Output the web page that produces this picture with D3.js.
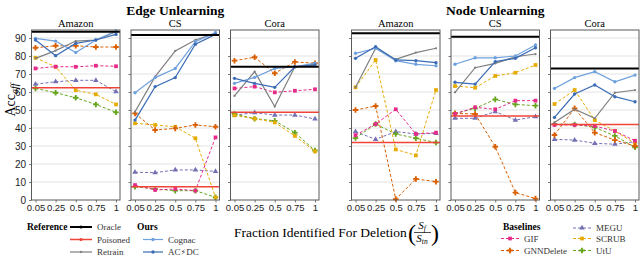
<!DOCTYPE html>
<html>
<head>
<meta charset="utf-8">
<script src="https://cdn.jsdelivr.net/npm/d3@7"></script>
<style>
  body { margin: 0; background: #fff; }
  svg { display: block; font-family: "Liberation Serif", "DejaVu Serif", serif; }
</style>
</head>
<body>
<svg id="chart" width="640" height="256"></svg>
<script>
// ---------- data ----------
const xLabels = ["0.05", "0.25", "0.5", "0.75", "1"];
const datasets = ["Amazon", "CS", "Cora"];
const groups = ["Edge Unlearning", "Node Unlearning"];
const yTicks = [0, 10, 20, 30, 40, 50, 60, 70, 80, 90];

// rows = panels: edge Amazon, edge CS, edge Cora, node Amazon, node CS, node Cora
const oracle = [93.5, 91.7, 74, 92.6, 90.7, 73.1];
const poisoned = [62.4, 7.4, 48.7, 32, 46.7, 42];

const retrain = [
  [78.7, 83, 88.3, 88.9, 93.5],
  [49, 68.5, 82.8, 88.9, 92.6],
  [57.8, 71.3, 51.9, 74, 75.5],
  [62.6, 84.3, 78.1, 81.9, 84.3],
  [59.8, 73.5, 75.9, 79.6, 81.1],
  [43, 50.4, 45.4, 59.6, 61.1]
];
const cognac = [
  [89.8, 88.3, 81.9, 88.9, 93.9],
  [59.6, 68, 73.1, 88, 93.1],
  [64.8, 68.1, 73.1, 74, 76],
  [81.5, 84.3, 77.4, 75.4, 74.6],
  [75.4, 79, 79, 80, 86.1],
  [62, 68, 71.3, 65.7, 69.4]
];
const acdc = [
  [88.9, 80.2, 87, 88.9, 92],
  [44.4, 63, 68, 86.5, 92],
  [67.6, 64.8, 62.6, 74, 75],
  [78.7, 85.2, 77.8, 77.4, 76.3],
  [65.4, 64.4, 76.9, 78.7, 84.6],
  [45.9, 58.9, 63.9, 57.4, 54.6]
];
const gif = [
  [73.1, 74.1, 74, 74.6, 74.3],
  [8.3, 5.6, 6.1, 5.2, 34.8],
  [62, 63, 59.8, 60.7, 61.5],
  [36, 42.2, 50.4, 36.7, 37.4],
  [47.8, 51.5, 50.4, 55.2, 55.2],
  [41.7, 41.7, 41.1, 38.3, 32.9]
];
const gnndelete = [
  [84.6, 85.7, 85.7, 85, 85],
  [48.1, 38.9, 39.8, 41.7, 40.7],
  [77.4, 79.3, 70.4, 76.7, 76],
  [50, 52.2, 0.5, 11.7, 10.2],
  [48.1, 47.8, 29.6, 4.1, 0.8],
  [36.1, 50.9, 37.4, 33.3, 30]
];
const megu = [
  [64.3, 65.7, 66.5, 66.5, 60.2],
  [15.4, 15.2, 16.7, 16.7, 15.9],
  [47.2, 48.5, 47.2, 47.2, 45],
  [38, 33.7, 38, 36.7, 37],
  [45.4, 45.4, 49.1, 44.4, 46.3],
  [33.7, 33.3, 31.5, 31, 32.4]
];
const scrub = [
  [79, 74, 61, 58.7, 53.1],
  [42.6, 41.7, 40.7, 34.3, 1.5],
  [47, 45.2, 43.1, 35.6, 27],
  [62.6, 77.8, 28.1, 24.8, 61.1],
  [63.3, 62.4, 68.9, 70.7, 75],
  [53.3, 61.1, 44.4, 38.3, 31.5]
];
const utu = [
  [62, 59.6, 56.8, 53.1, 48.7],
  [7.4, 6.1, 5.2, 5.2, 1.5],
  [47.8, 45.2, 44, 37.4, 27.5],
  [34.4, 42.2, 36.7, 34.3, 31.9],
  [48.1, 50.9, 55.9, 53.1, 52.4],
  [42.2, 42, 40.4, 35.6, 29.3]
];

// ---------- styles ----------
const style = {
  "Oracle":    { color: "#000000", width: 2,   symbol: d3.symbolCircle, size: 8 },
  "Poisoned":  { color: "#f0443a", width: 1.5, symbol: d3.symbolCircle, size: 8 },
  "Retrain":   { color: "#7f7f7f", width: 1.2, symbol: d3.symbolCircle, size: 4 },
  "Cognac":    { color: "#6fa1dd", width: 1.2, symbol: d3.symbolCircle, size: 9 },
  "AC⚡DC":     { color: "#3b6cb5", width: 1.2, symbol: d3.symbolCircle, size: 9 },
  "GIF":       { color: "#e7298a", width: 1, dash: "3,2", symbol: d3.symbolSquare, size: 14 },
  "GNNDelete": { color: "#d95f02", width: 1, dash: "3,2", symbol: d3.symbolCross, size: 17 },
  "MEGU":      { color: "#7570b3", width: 1, dash: "3,2", symbol: d3.symbolTriangle, size: 13 },
  "SCRUB":     { color: "#e6ab02", width: 1, dash: "3,2", symbol: d3.symbolSquare, size: 14 },
  "UtU":       { color: "#66a61e", width: 1, dash: "3,2", symbol: d3.symbolCross, size: 17 }
};

// drawing order, back to front
const series = [
  ["MEGU", megu], ["UtU", utu], ["SCRUB", scrub], ["GNNDelete", gnndelete], ["GIF", gif],
  ["Retrain", retrain], ["Cognac", cognac], ["AC⚡DC", acdc]
];

// ---------- layout ----------
const svg = d3.select("#chart");
const groupX = [31.5, 351.5];
const panelStep = 99.5;
const panelW = 88.5;
const plotTop = 30, plotBottom = 200;

const y = d3.scaleLinear().domain([0, 94.45]).range([plotBottom, plotTop]);

groups.forEach((gName, gi) => {
  svg.append("text")
    .attr("x", groupX[gi] + panelStep + panelW / 2)
    .attr("y", 15)
    .attr("text-anchor", "middle")
    .attr("font-weight", "bold")
    .attr("font-size", 13.5)
    .text(gName);

  datasets.forEach((ds, di) => {
    const p = gi * 3 + di;
    const x0 = groupX[gi] + di * panelStep;
    const x = d3.scalePoint().domain(xLabels).range([x0 + 4, x0 + panelW - 4]);
    const g = svg.append("g");

    // title
    g.append("text")
      .attr("x", x0 + panelW / 2)
      .attr("y", 26.5)
      .attr("text-anchor", "middle")
      .attr("font-size", 10.5)
      .text(ds);

    // grid
    g.selectAll("line.grid")
      .data(yTicks.filter(t => t > 0))
      .enter().append("line")
      .attr("x1", x0).attr("x2", x0 + panelW)
      .attr("y1", d => y(d)).attr("y2", d => y(d))
      .attr("stroke", "#e3e3e3").attr("stroke-width", 1);

    // axes
    const yAxis = g.append("g")
      .attr("transform", `translate(${x0},0)`)
      .call(d3.axisLeft(y).tickValues(yTicks).tickSize(2.5).tickPadding(3)
        .tickFormat(p === 0 ? d3.format("d") : ""));
    yAxis.select(".domain").remove();
    yAxis.selectAll("line").attr("stroke", "#777");
    yAxis.selectAll("text").attr("font-family", null).attr("font-size", 10).attr("fill", "#222");

    const xAxis = g.append("g")
      .attr("transform", `translate(0,${plotBottom})`)
      .call(d3.axisBottom(x).tickSize(2.5).tickPadding(2));
    xAxis.select(".domain").remove();
    xAxis.selectAll("line").attr("stroke", "#777");
    xAxis.selectAll("text").attr("font-family", null).attr("font-size", 9.5).attr("fill", "#222");

    // baselines + ours
    series.forEach(([name, rows]) => {
      const s = style[name];
      const pts = rows[p].map((v, i) => [xLabels[i], v]);
      g.append("path")
        .datum(pts)
        .attr("fill", "none")
        .attr("stroke", s.color)
        .attr("stroke-width", s.width)
        .attr("stroke-dasharray", s.dash || null)
        .attr("d", d3.line().x(d => x(d[0])).y(d => y(d[1])));
      g.selectAll(null)
        .data(pts)
        .enter().append("path")
        .attr("transform", d => `translate(${x(d[0])},${y(d[1])})`)
        .attr("d", d3.symbol(s.symbol, s.size))
        .attr("fill", s.color);
    });

    // reference horizontal lines
    [["Poisoned", poisoned], ["Oracle", oracle]].forEach(([name, vals]) => {
      g.append("line")
        .attr("x1", x0).attr("x2", x0 + panelW)
        .attr("y1", y(vals[p])).attr("y2", y(vals[p]))
        .attr("stroke", style[name].color)
        .attr("stroke-width", style[name].width);
    });

    // frame
    g.append("rect")
      .attr("x", x0).attr("y", plotTop)
      .attr("width", panelW).attr("height", plotBottom - plotTop)
      .attr("fill", "none").attr("stroke", "#5a5a5a").attr("stroke-width", 1);
  });
});

// y title
const yt = svg.append("text")
  .attr("transform", "translate(15,100) rotate(-90)")
  .attr("text-anchor", "middle")
  .attr("font-size", 14);
yt.append("tspan").text("Acc");
yt.append("tspan").attr("font-size", 10).attr("font-style", "italic").attr("dy", 3).text("aff");

// x title
svg.append("text")
  .attr("x", 234).attr("y", 237)
  .attr("font-size", 13.5)
  .text("Fraction Identified For Deletion");
svg.append("text").attr("x", 408).attr("y", 241).attr("font-size", 24).attr("font-weight", 300).text("(");
svg.append("text").attr("x", 431).attr("y", 241).attr("font-size", 24).attr("font-weight", 300).text(")");
const num = svg.append("text").attr("x", 422).attr("y", 229).attr("text-anchor", "middle")
  .attr("font-size", 11).attr("font-style", "italic");
num.append("tspan").text("S");
num.append("tspan").attr("font-size", 7.5).attr("dy", 2).text("f");
svg.append("line").attr("x1", 414).attr("x2", 431).attr("y1", 232.5).attr("y2", 232.5)
  .attr("stroke", "#000").attr("stroke-width", 0.7);
const den = svg.append("text").attr("x", 422).attr("y", 242).attr("text-anchor", "middle")
  .attr("font-size", 11).attr("font-style", "italic");
den.append("tspan").text("S");
den.append("tspan").attr("font-size", 7.5).attr("dy", 2).text("tn");

// ---------- legend ----------
function legendItem(name, lx, ly, len) {
  const s = style[name];
  svg.append("line")
    .attr("x1", lx).attr("x2", lx + len).attr("y1", ly).attr("y2", ly)
    .attr("stroke", s.color).attr("stroke-width", s.width)
    .attr("stroke-dasharray", s.dash || null);
  svg.append("path")
    .attr("transform", `translate(${lx + len / 2},${ly})`)
    .attr("d", d3.symbol(s.symbol, s.size))
    .attr("fill", s.color);
  const t = svg.append("text")
    .attr("x", lx + len + 5).attr("y", ly).attr("dy", "0.35em")
    .attr("font-size", 9).attr("fill", "#333");
  // keep the bolt as a plain monochrome glyph
  name.split(/(⚡)/).filter(Boolean).forEach(part => {
    const ts = t.append("tspan").text(part === "⚡" ? "⚡\uFE0E" : part);
    if (part === "⚡") ts.attr("font-family", "DejaVu Sans").attr("font-size", 8);
  });
}
function legendHead(label, lx, ly) {
  svg.append("text").attr("x", lx).attr("y", ly).attr("dy", "0.35em")
    .attr("font-size", 9.5).attr("font-weight", "bold").text(label);
}

legendHead("Reference", 27, 227);
legendItem("Oracle", 70, 227, 22);
legendItem("Poisoned", 70, 239.5, 22);
legendItem("Retrain", 70, 252, 22);
legendHead("Ours", 137, 227);
legendItem("Cognac", 143, 239.5, 20);
legendItem("AC⚡DC", 143, 252, 20);
legendHead("Baselines", 503, 227);
legendItem("GIF", 501, 238.5, 18);
legendItem("GNNDelete", 501, 250.5, 18);
legendItem("MEGU", 573, 228, 18);
legendItem("SCRUB", 573, 238.5, 18);
legendItem("UtU", 573, 250.5, 18);
</script>
</body>
</html>
